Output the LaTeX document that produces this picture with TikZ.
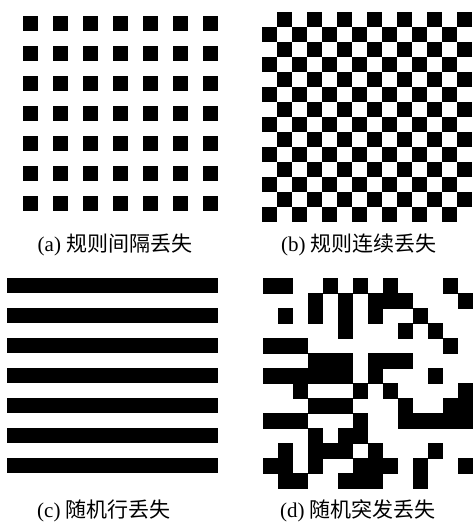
\documentclass[tikz,border=0pt]{standalone}
\usepackage{fontspec}
\setmainfont{Liberation Serif}
\newfontfamily\cjk{Noto Sans CJK SC}
\begin{document}
\begin{tikzpicture}[x=1pt,y=-1pt,
  blk/.style={fill=black},
  lbl/.style={font=\fontsize{21}{25}\selectfont, inner sep=0pt}]
\useasboundingbox[fill=white] (0,0) rectangle (473,527);
% (a) regular interval loss
\foreach \i in {0,...,6}
  \foreach \j in {0,...,6}
    \fill[blk] ({22.7+30.1*\i},{16+30*\j}) rectangle ++(15,15);
% (b) regular continuous loss (checkerboard)
\foreach \r in {0,...,13}
  \foreach \c in {0,...,13}{
    \pgfmathtruncatemacro{\odd}{mod(\r+\c,2)}
    \ifnum\odd=1
      \fill[blk] ({262+15*\c},{11.7+15*\r}) rectangle ++(15,15);
    \fi}
% (c) random row loss
\foreach \k in {0,...,6}
  \fill[blk] (7.3,{278.3+30*\k}) rectangle (218.3,{293.3+30*\k});
% (d) random burst loss
\foreach \r/\cols in {
  0/{0,1,4,6,8,12},
  1/{3,5,7,8,9,13},
  2/{1,3,5,7,10},
  3/{5,9,11},
  4/{0,1,2,12},
  5/{3,4,5,7,8,9},
  6/{0,1,2,3,4,5,7,11},
  7/{2,6,8,13},
  8/{3,4,5,9,12,13},
  9/{0,1,2,6,9,10,11,12,13},
  10/{3,5,6},
  11/{1,3,4,5,7,11},
  12/{0,1,3,6,7,8,10,13},
  13/{1,2,5,6,7,10}}
  \foreach \c in \cols
    \fill[blk] ({262.7+15*\c},{278.3+15*\r}) rectangle ++(15.2,15.2);
% labels
\node[lbl] (la) at (115,245) {(a) {\cjk 规则间隔丢失}};
\node[lbl] (lb) at (359,245) {(b) {\cjk 规则连续丢失}};
\node[lbl] (lc) at (104,511) {(c) {\cjk 随机行丢失}};
\node[lbl] (ld) at (358,511) {(d) {\cjk 随机突发丢失}};
\end{tikzpicture}
\end{document}
